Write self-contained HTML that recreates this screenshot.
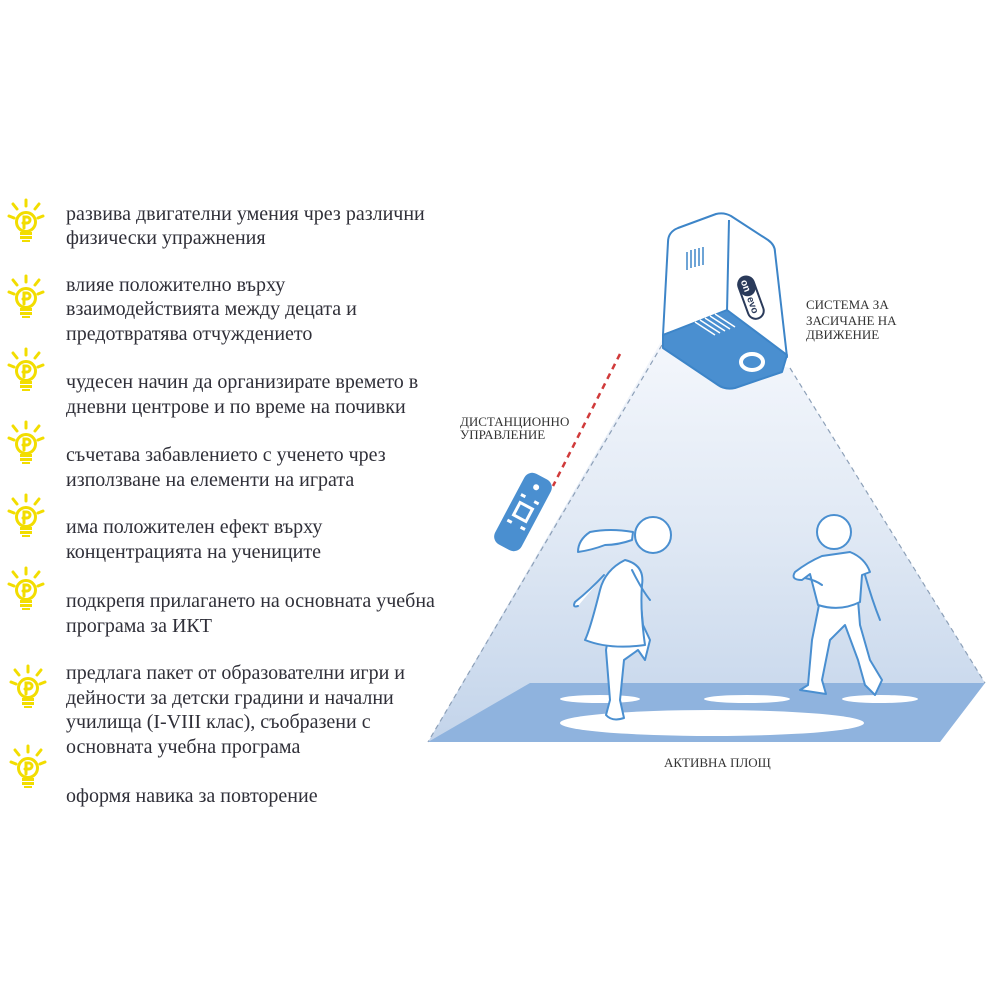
<!DOCTYPE html>
<html><head><meta charset="utf-8"><style>
html,body{margin:0;padding:0;background:#fff;width:1000px;height:1000px;overflow:hidden}
svg{display:block}
</style></head><body>
<svg width="1000" height="1000" viewBox="0 0 1000 1000" xmlns="http://www.w3.org/2000/svg">
<defs>
<linearGradient id="beam" x1="0" y1="0" x2="0" y2="1">
<stop offset="0" stop-color="#f4f7fc"/><stop offset="0.5" stop-color="#dfe8f4"/><stop offset="1" stop-color="#c3d4ea"/>
</linearGradient>
<g id="bulb">
<g stroke="#f2dd00" stroke-width="3" stroke-linecap="round" fill="none">
<line x1="0" y1="-22" x2="0" y2="-16"/><line x1="-13" y1="-18" x2="-9" y2="-13"/><line x1="13" y1="-18" x2="9" y2="-13"/>
<line x1="-17" y1="-6" x2="-12" y2="-4"/><line x1="17" y1="-6" x2="12" y2="-4"/>
<circle cx="0" cy="0" r="9.5"/>
<path d="M-2 6 V-5 h3 a3 3 0 0 1 0 6 h-4"/>
</g>
<rect x="-6" y="10" width="12" height="3" fill="#f2dd00"/><rect x="-6" y="14" width="12" height="3" fill="#f2dd00"/><rect x="-4" y="18" width="8" height="2" fill="#f2dd00"/>
</g>
</defs>
<use href="#bulb" x="26" y="222"/>
<use href="#bulb" x="26" y="298"/>
<use href="#bulb" x="26" y="371"/>
<use href="#bulb" x="26" y="444"/>
<use href="#bulb" x="26" y="517"/>
<use href="#bulb" x="26" y="590"/>
<use href="#bulb" x="28" y="688"/>
<use href="#bulb" x="28" y="768"/>
<g font-family="Liberation Serif, serif" font-size="20" fill="#2f2f38">
<text x="66" y="220">развива двигателни умения чрез различни</text>
<text x="66" y="244">физически упражнения</text>
<text x="66" y="291">влияе положително върху</text>
<text x="66" y="315">взаимодействията между децата и</text>
<text x="66" y="340">предотвратява отчуждението</text>
<text x="66" y="388">чудесен начин да организирате времето в</text>
<text x="66" y="413">дневни центрове и по време на почивки</text>
<text x="66" y="461">съчетава забавлението с ученето чрез</text>
<text x="66" y="486">използване на елементи на играта</text>
<text x="66" y="533">има положителен ефект върху</text>
<text x="66" y="558">концентрацията на учениците</text>
<text x="66" y="607">подкрепя прилагането на основната учебна</text>
<text x="66" y="632">програма за ИКТ</text>
<text x="66" y="679">предлага пакет от образователни игри и</text>
<text x="66" y="704">дейности за детски градини и начални</text>
<text x="66" y="728">училища (I-VIII клас), съобразени с</text>
<text x="66" y="753">основната учебна програма</text>
<text x="66" y="802">оформя навика за повторение</text>
</g>
<!-- beam -->
<polygon points="662,340 790,368 985,683 940,742 428,742" fill="url(#beam)"/>
<line x1="662" y1="345" x2="428" y2="742" stroke="#8da0b8" stroke-width="1.2" stroke-dasharray="5,4"/>
<line x1="790" y1="368" x2="985" y2="683" stroke="#8da0b8" stroke-width="1.2" stroke-dasharray="5,4"/>
<!-- floor -->
<polygon points="530,683 985,683 940,742 428,742" fill="#8fb3de"/>
<ellipse cx="712" cy="723" rx="152" ry="13" fill="#fff"/>
<ellipse cx="600" cy="699" rx="40" ry="4" fill="#fff"/>
<ellipse cx="747" cy="699" rx="43" ry="4" fill="#fff"/>
<ellipse cx="880" cy="699" rx="38" ry="4" fill="#fff"/>
<!-- projector -->
<g stroke="#3d85c8" stroke-width="2" stroke-linejoin="round">
<path d="M668,242 Q668,232 678,228 L716,214 Q724,212 731,216 L768,240 Q775,245 775,252 L787,357 L727,312 L663,335 Z" fill="#fff"/>
<line x1="729" y1="220" x2="727" y2="312"/>
<path d="M663,335 L727,310 L787,355 L782,372 L735,388 Q725,390 718,385 L663,348 Z" fill="#4a8fd0"/>
</g>
<g stroke="#3d85c8" stroke-width="1.5">
<line x1="687" y1="252" x2="687" y2="270"/><line x1="691" y1="250" x2="691" y2="268"/><line x1="695" y1="249" x2="695" y2="267"/><line x1="699" y1="248" x2="699" y2="266"/><line x1="703" y1="247" x2="703" y2="265"/>
</g>
<g stroke="#fff" stroke-width="1.5">
<line x1="700" y1="320" x2="720" y2="333"/><line x1="705" y1="318" x2="725" y2="331"/><line x1="710" y1="316" x2="730" y2="329"/><line x1="715" y1="314" x2="735" y2="327"/><line x1="695" y1="322" x2="715" y2="335"/>
</g>
<ellipse cx="752" cy="362" rx="11" ry="8" fill="none" stroke="#fff" stroke-width="4"/>
<g transform="translate(750,298) rotate(70)">
<rect x="-22" y="-9" width="44" height="16" rx="8" fill="#fff" stroke="#2a3a5a" stroke-width="2"/>
<rect x="-22" y="-9" width="20" height="16" rx="8" fill="#2a3a5a"/>
<text x="-19" y="3" font-family="Liberation Sans, sans-serif" font-size="10" font-weight="bold" fill="#fff">on</text>
<text x="-1" y="3" font-family="Liberation Sans, sans-serif" font-size="10" font-weight="bold" fill="#2a3a5a">evo</text>
</g>
<!-- remote -->
<line x1="620" y1="354" x2="553" y2="486" stroke="#d03a3a" stroke-width="2.5" stroke-dasharray="6,5"/>
<g transform="translate(523,512) rotate(28)">
<rect x="-15" y="-40" width="30" height="80" rx="9" fill="#4a8fd0"/>
<circle cx="0" cy="-28" r="3" fill="#fff"/>
<rect x="-7" y="-7" width="14" height="14" fill="none" stroke="#fff" stroke-width="3"/>
<rect x="-10" y="-16" width="5" height="3" fill="#fff"/><rect x="5" y="-16" width="5" height="3" fill="#fff"/>
<rect x="-10" y="13" width="5" height="3" fill="#fff"/><rect x="5" y="13" width="5" height="3" fill="#fff"/>
</g>
<!-- girl -->
<g fill="#fff" stroke="#4a8fd0" stroke-width="2" stroke-linejoin="round" stroke-linecap="round">
<path d="M633,532 Q610,528 590,532 Q578,540 578,552 Q592,550 605,545 Q618,545 632,540 Z"/>
<path d="M615,598 L606,650 L610,700 L606,715 Q612,722 624,718 L620,700 L624,660 L638,650 L645,660 L650,640 L643,625 L640,595 Z"/>
<path d="M625,560 Q605,570 600,590 Q590,630 585,640 Q610,650 645,645 Q640,610 642,585 Q645,565 625,560 Z"/>
<path d="M604,575 Q590,590 575,602 Q572,608 578,606"/>
<path d="M632,570 Q642,590 650,600"/>
<circle cx="653" cy="535" r="18"/>
</g>
<!-- boy -->
<g fill="#fff" stroke="#4a8fd0" stroke-width="2" stroke-linejoin="round" stroke-linecap="round">
<path d="M820,600 L812,640 L808,685 L800,690 L826,694 L822,680 L830,640 L845,625 L858,660 L865,685 L875,695 L882,680 L870,660 L860,625 L858,600 Z"/>
<path d="M822,556 Q808,562 795,572 Q790,580 802,580 L810,574 L818,605 Q840,612 860,602 L862,575 L870,572 Q865,558 850,552 Z"/>
<path d="M865,575 Q872,600 880,620"/>
<path d="M805,578 Q815,580 822,585"/>
<circle cx="834" cy="532" r="17"/>
</g>
<!-- labels -->
<g font-family="Liberation Serif, serif" font-size="13" fill="#333">
<text x="460" y="426">ДИСТАНЦИОННО</text>
<text x="460" y="439">УПРАВЛЕНИЕ</text>
<text x="806" y="309">СИСТЕМА ЗА</text>
<text x="806" y="325">ЗАСИЧАНЕ НА</text>
<text x="806" y="339">ДВИЖЕНИЕ</text>
<text x="664" y="767">АКТИВНА ПЛОЩ</text>
</g>
</svg>
</body></html>
